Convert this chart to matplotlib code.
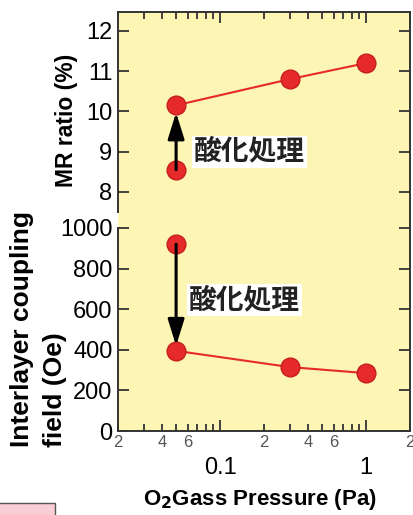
import matplotlib

matplotlib.use("Agg")
import matplotlib.pyplot as plt
from matplotlib.patches import Rectangle

plt.rcParams["font.family"] = ["Liberation Sans", "DejaVu Sans"]

# O2 gas pressure (Pa) for the treated samples and the untreated reference
pressure = [0.05, 0.3, 1.0]
pressure_untreated = 0.05

# MR ratio (%)
mr_untreated = 8.55
mr_treated = [10.15, 10.8, 11.2]

# interlayer coupling field (Oe)
coupling_untreated = 920
coupling_treated = [395, 315, 285]

mr_ticks = [8, 9, 10, 11, 12]
coupling_ticks = [0, 200, 400, 600, 800, 1000]
major_x = [0.1, 1]
major_x_labels = ["0.1", "1"]
minor_x = [0.02, 0.03, 0.04, 0.05, 0.06, 0.07, 0.08, 0.09,
           0.2, 0.3, 0.4, 0.5, 0.6, 0.7, 0.8, 0.9, 2]
minor_x_labels = ["2", "", "4", "", "6", "", "", "",
                  "2", "", "4", "", "6", "", "", "", "2"]

W, H = 414, 515
YELLOW = "#fdf5b4"
RED = "#e62a2a"
AXIS = "#333333"
TREATMENT = "酸化処理"
CJK = ["Noto Sans CJK JP", "DejaVu Sans"]


def fx(px):
    return px / W


def fy(py):
    return 1 - py / H


def style_axes(ax):
    ax.set_facecolor("none")
    for side in ("left", "right", "top", "bottom"):
        ax.spines[side].set_linewidth(1.4)
        ax.spines[side].set_color(AXIS)
    ax.set_xscale("log")
    ax.set_xlim(0.02, 2)
    ax.tick_params(axis="both", which="both", direction="in", color=AXIS, width=1.3)
    ax.tick_params(axis="both", which="major", length=8)
    ax.tick_params(axis="x", which="minor", length=5)
    ax.tick_params(axis="y", left=True, right=True, labelleft=True, labelright=False,
                   labelsize=17, pad=4)


fig = plt.figure(figsize=(W / 100, H / 100), dpi=100)

# one yellow panel behind both axes
fig.patches.append(Rectangle((fx(118), fy(431)), fx(410) - fx(118), fy(12) - fy(431),
                             transform=fig.transFigure, facecolor=YELLOW,
                             edgecolor="none", zorder=-1))

ax_mr = fig.add_axes([fx(118), fy(228), fx(410) - fx(118), fy(12) - fy(228)])
ax_ic = fig.add_axes([fx(118), fy(431), fx(410) - fx(118), fy(228) - fy(431)])

for ax in (ax_mr, ax_ic):
    style_axes(ax)
    ax.set_xticks(major_x)
    ax.set_xticks(minor_x, minor=True)

# upper panel: MR ratio
mr_top = 12.47
ax_mr.set_ylim(7.1, mr_top)
ax_mr.set_yticks(mr_ticks)
ax_mr.spines["bottom"].set_visible(False)
ax_mr.spines["left"].set_bounds(7.5, mr_top)
ax_mr.tick_params(axis="x", which="both", bottom=False, top=True,
                  labelbottom=False, labeltop=False)

ax_mr.plot(pressure, mr_treated, color=RED, lw=1.5, marker="o", ms=13.5,
           mfc=RED, mec="#c41e1e", mew=1, zorder=3)
ax_mr.plot([pressure_untreated], [mr_untreated], ls="none", marker="o", ms=13.5,
           mfc=RED, mec="#c41e1e", mew=1, zorder=3)
ax_mr.annotate("", xy=(pressure_untreated, 9.97), xytext=(pressure_untreated, mr_untreated),
               arrowprops=dict(arrowstyle="-|>,head_length=0.8,head_width=0.25",
                               color="black", lw=2.2, mutation_scale=20,
                               shrinkA=0, shrinkB=0), zorder=4)
ax_mr.text(0.066, 9.0, TREATMENT, family=CJK,
           fontsize=20, fontweight="bold", color="#222222", ha="left", va="center",
           bbox=dict(facecolor="white", edgecolor="none", pad=1.5), zorder=5)
ax_mr.set_ylabel("MR ratio (%)", fontsize=16.5, fontweight="bold", labelpad=6)

# lower panel: interlayer coupling field
ax_ic.set_ylim(0, 1000)
ax_ic.set_yticks(coupling_ticks)
ax_ic.spines["top"].set_visible(False)
ax_ic.tick_params(axis="x", which="both", bottom=True, top=False,
                  labelbottom=True, labeltop=False)
ax_ic.set_xticklabels(major_x_labels)
ax_ic.set_xticklabels(minor_x_labels, minor=True)
ax_ic.tick_params(axis="x", which="major", pad=19, labelsize=17)
ax_ic.tick_params(axis="x", which="minor", pad=3, labelsize=12, labelcolor="#555555")

ax_ic.plot(pressure, coupling_treated, color=RED, lw=1.5, marker="o", ms=13.5,
           mfc=RED, mec="#c41e1e", mew=1, zorder=3)
ax_ic.plot([pressure_untreated], [coupling_untreated], ls="none", marker="o", ms=13.5,
           mfc=RED, mec="#c41e1e", mew=1, zorder=3)
ax_ic.annotate("", xy=(pressure_untreated, 420), xytext=(pressure_untreated, coupling_untreated),
               arrowprops=dict(arrowstyle="-|>,head_length=0.8,head_width=0.25",
                               color="black", lw=2.2, mutation_scale=20,
                               shrinkA=0, shrinkB=0), zorder=4)
ax_ic.text(0.0615, 645, TREATMENT, family=CJK,
           fontsize=20, fontweight="bold", color="#222222", ha="left", va="center",
           bbox=dict(facecolor="white", edgecolor="none", pad=1.5), zorder=5)

fig.text(fx(22), fy(447), "Interlayer coupling", rotation=90, ha="center", va="bottom",
         fontsize=19, fontweight="bold")
fig.text(fx(55), fy(447), "field (Oe)", rotation=90, ha="center", va="bottom",
         fontsize=19, fontweight="bold")
fig.text(fx(260), fy(500), r"O$_\mathbf{2}$Gass Pressure (Pa)", ha="center", va="center",
         fontsize=16, fontweight="bold")

# partial pink box at the lower-left corner
fig.patches.append(Rectangle((-0.01, -0.01), fx(55) + 0.01, fy(503) + 0.01,
                             transform=fig.transFigure, facecolor="#f9cdd3",
                             edgecolor="#555555", lw=1.0))

fig.savefig("out.png", dpi=100)
